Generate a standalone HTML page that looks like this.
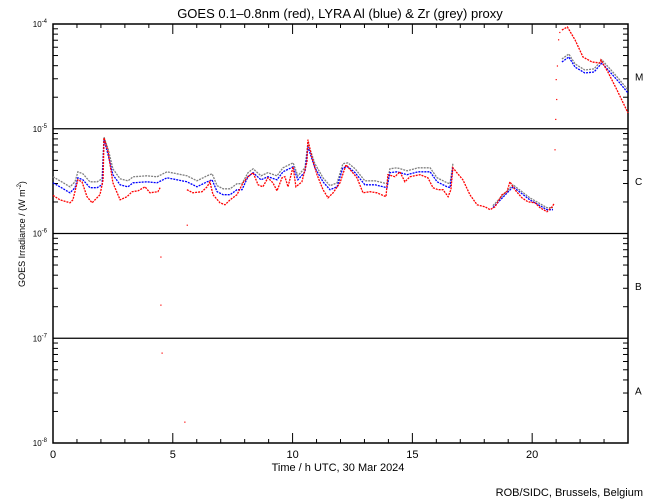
<!DOCTYPE html>
<html><head><meta charset="utf-8"><style>
html,body{margin:0;padding:0;background:#fff;}
svg{display:block;font-family:"Liberation Sans",sans-serif;}
</style></head><body>
<svg id="chart" width="650" height="500" viewBox="0 0 650 500" xmlns="http://www.w3.org/2000/svg">
<text x="340" y="18" font-size="13" text-anchor="middle">GOES 0.1–0.8nm (red), LYRA Al (blue) &amp; Zr (grey) proxy</text>
<g id="axes"></g>
<g id="series"></g>
<text transform="translate(25,234) rotate(-90)" font-size="9" text-anchor="middle">GOES Irradiance / (W m<tspan font-size="6" dy="-4">-2</tspan><tspan dy="4">)</tspan></text>
<text x="338" y="471" font-size="11" text-anchor="middle">Time / h UTC, 30 Mar 2024</text>
<text x="643" y="496" font-size="11" text-anchor="end">ROB/SIDC, Brussels, Belgium</text>
</svg>
<script>
const xTicks = [0, 5, 10, 15, 20];
const yDecades = [-4, -5, -6, -7, -8];
const classLabels = ["M", "C", "B", "A"];
const redT = [0,0.29,0.71,0.83,1.04,1.21,1.42,1.63,1.96,2.09,2.13,2.30,2.50,2.80,3.09,3.30,3.55,3.84,4.05,4.38,4.47,null,5.59,5.84,6.22,6.43,6.55,6.68,6.97,7.18,7.39,7.68,7.93,8.14,8.35,8.56,8.76,8.97,9.18,9.35,9.56,9.68,9.81,10.02,10.14,10.39,10.60,10.64,10.81,11.02,11.27,11.48,11.69,11.98,12.23,12.48,12.69,12.94,13.23,13.52,13.90,13.98,14.27,14.48,14.69,14.90,15.32,15.65,15.86,16.07,16.28,16.49,16.61,16.69,16.86,17.11,17.40,17.70,18.03,18.24,18.45,18.74,18.95,19.07,19.28,19.57,19.82,20.12,20.33,20.62,20.83,20.91,null,21.24,21.47,21.79,22.12,22.50,22.83,22.87,23.16,23.54,24.0];
const redV = [-5.636,-5.678,-5.707,-5.678,-5.487,-5.506,-5.649,-5.707,-5.630,-5.487,-5.086,-5.220,-5.516,-5.678,-5.649,-5.601,-5.592,-5.554,-5.611,-5.601,-5.563,null,-5.582,-5.611,-5.601,-5.554,-5.506,-5.630,-5.707,-5.726,-5.678,-5.630,-5.516,-5.458,-5.420,-5.535,-5.554,-5.468,-5.516,-5.592,-5.468,-5.458,-5.554,-5.363,-5.554,-5.506,-5.315,-5.105,-5.277,-5.439,-5.582,-5.659,-5.611,-5.516,-5.344,-5.411,-5.468,-5.611,-5.601,-5.611,-5.649,-5.439,-5.458,-5.411,-5.506,-5.458,-5.439,-5.468,-5.563,-5.582,-5.582,-5.649,-5.582,-5.372,-5.420,-5.487,-5.630,-5.726,-5.745,-5.773,-5.745,-5.630,-5.601,-5.506,-5.582,-5.659,-5.697,-5.707,-5.754,-5.792,-5.745,-5.716,null,-4.057,-4.029,-4.153,-4.315,-4.363,-4.372,-4.344,-4.458,-4.630,-4.850];
const blueT = [0,0.29,0.71,0.92,1.04,1.25,1.54,1.84,2.05,2.13,2.30,2.50,2.80,3.13,3.34,3.92,4.34,4.76,5.18,5.59,6.01,6.43,6.64,6.85,7.10,7.39,7.68,7.89,8.14,8.35,8.68,8.97,9.35,9.60,10.02,10.22,10.52,10.64,10.93,11.27,11.56,11.86,12.10,12.31,12.61,13.02,13.44,13.94,14.06,14.36,14.78,15.24,15.74,16.03,16.45,16.57,16.69,null,18.36,19.20,19.90,20.62,20.87,null,21.24,21.53,21.79,22.20,22.58,22.91,23.25,23.62,24.0];
const blueV = [-5.516,-5.554,-5.611,-5.563,-5.468,-5.487,-5.563,-5.563,-5.535,-5.105,-5.248,-5.439,-5.535,-5.554,-5.516,-5.506,-5.516,-5.468,-5.487,-5.506,-5.554,-5.506,-5.487,-5.601,-5.630,-5.630,-5.582,-5.582,-5.458,-5.420,-5.487,-5.458,-5.487,-5.411,-5.363,-5.487,-5.411,-5.172,-5.372,-5.506,-5.582,-5.554,-5.372,-5.363,-5.420,-5.535,-5.535,-5.563,-5.420,-5.411,-5.439,-5.411,-5.411,-5.506,-5.554,-5.563,-5.372,null,-5.754,-5.554,-5.678,-5.773,-5.773,null,-4.363,-4.315,-4.411,-4.468,-4.458,-4.372,-4.458,-4.554,-4.659];
const greyV = [-5.459,-5.497,-5.554,-5.506,-5.411,-5.430,-5.506,-5.506,-5.478,-5.080,-5.191,-5.382,-5.478,-5.497,-5.459,-5.449,-5.459,-5.411,-5.430,-5.449,-5.497,-5.449,-5.430,-5.544,-5.573,-5.573,-5.525,-5.525,-5.420,-5.382,-5.449,-5.420,-5.449,-5.373,-5.325,-5.449,-5.373,-5.134,-5.334,-5.468,-5.544,-5.516,-5.334,-5.325,-5.382,-5.497,-5.497,-5.525,-5.382,-5.373,-5.401,-5.373,-5.373,-5.468,-5.516,-5.525,-5.334,null,-5.735,-5.535,-5.659,-5.754,-5.754,null,-4.334,-4.286,-4.382,-4.439,-4.429,-4.343,-4.429,-4.525,-4.630];
const dotT = [4.5,4.5,4.55,5.5,5.6,20.95,20.98,21.0,21.02,21.05,21.1,21.15];
const dotV = [-6.224,-6.683,-7.141,-7.80,-5.92,-5.20,-4.91,-4.53,-4.72,-4.40,-4.15,-4.08];

const NS = "http://www.w3.org/2000/svg";
const L = 53, R = 628, T = 24, B = 443;
function xs(h){ return L + (R - L) * h / 24; }
function ys(lv){ return T + (B - T) * (-4 - lv) / 4; }
function mk(tag, attrs, parent){
  const e = document.createElementNS(NS, tag);
  for (const k in attrs) e.setAttribute(k, attrs[k]);
  parent.appendChild(e); return e;
}
const ax = document.getElementById("axes");
const frame = mk("rect", {x:L, y:T, width:R-L, height:B-T, fill:"none", stroke:"#000", "stroke-width":1.5}, ax);


for (let h = 1; h < 24; h++) {
  const len = (h % 5 === 0) ? 10 : 4;
  const t1 = mk("line", {x1:xs(h), x2:xs(h), y1:B, y2:B-len, stroke:"#000"}, ax);
  
  
  const t2 = mk("line", {x1:xs(h), x2:xs(h), y1:T, y2:T+len, stroke:"#000"}, ax);
  
  
}
xTicks.forEach(h => {
  const t = mk("text", {x:xs(h), y:458, "font-size":11, "text-anchor":"middle"}, ax);
  t.textContent = h;
  
  
});
yDecades.forEach((d, i) => {
  const y = ys(d);
  if (i > 0 && i < yDecades.length - 1) {
    const gl = mk("line", {x1:L, x2:R, y1:y, y2:y, stroke:"#000", "stroke-width":1.2}, ax);
    
    
  }
  const t = mk("text", {x:47, y:y+3, "font-size":8, "text-anchor":"end"}, ax);
  
  
  t.textContent = "10";
  const sp = mk("tspan", {dy:-4, "font-size":6}, t);
  sp.textContent = String(d);
  if (i < yDecades.length - 1) {
    for (let m = 2; m <= 9; m++) {
      const yy = ys(d - 1 + Math.log10(m));
      const a = mk("line", {x1:L, x2:L+5, y1:yy, y2:yy, stroke:"#000"}, ax);
      
      
      const b = mk("line", {x1:R-5, x2:R, y1:yy, y2:yy, stroke:"#000"}, ax);
      
      
    }
  }
});
classLabels.forEach((c, i) => {
  const t = mk("text", {x:635, y:(ys(yDecades[i]) + ys(yDecades[i+1]))/2 + 4, "font-size":10}, ax);
  t.textContent = c;
  
  
});
const sg = document.getElementById("series");
function line(ts, vs, color, name){
  let d = "", pen = false;
  for (let i = 0; i < ts.length; i++) {
    if (ts[i] === null || vs[i] === null) { pen = false; continue; }
    d += (pen ? "L" : "M") + xs(ts[i]).toFixed(1) + "," + ys(vs[i]).toFixed(1);
    pen = true;
  }
  const p = mk("path", {d:d, fill:"none", stroke:color, "stroke-width":1.3, "stroke-dasharray":"2 1"}, sg);
  
  
}
line(blueT, greyV, "#808080", "zr-grey-series");
line(blueT, blueV, "#0000ff", "al-blue-series");
line(redT, redV, "#ff0000", "goes-red-series");
dotT.forEach((t, i) => {
  const r = mk("rect", {x:xs(t)-0.5, y:ys(dotV[i])-0.5, width:1.2, height:1.2, fill:"#ff0000"}, sg);
  
  
});
</script>
</body></html>
